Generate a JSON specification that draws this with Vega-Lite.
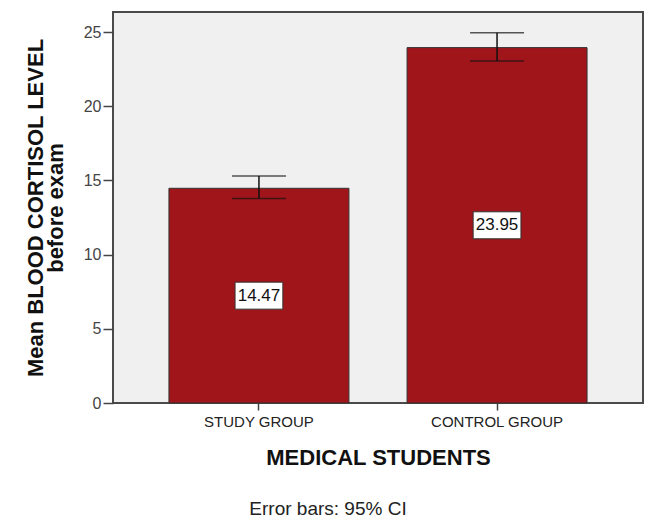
{
  "$schema": "https://vega.github.io/schema/vega-lite/v6.json",
  "width": 530,
  "height": 391,
  "autosize": {"type": "none"},
  "padding": {"left": 113, "top": 12, "right": 2, "bottom": 122},
  "background": "white",
  "title": {
    "text": "Error bars: 95% CI",
    "orient": "bottom",
    "anchor": "middle",
    "dx": -50,
    "offset": 32,
    "font": "Liberation Sans",
    "fontSize": 19,
    "fontWeight": "normal",
    "color": "#222"
  },
  "config": {
    "view": {"fill": "#F0F0F0", "stroke": "#4a4a4a", "strokeWidth": 2},
    "font": "Liberation Sans"
  },
  "data": {
    "values": [
      {"group": "STUDY GROUP", "mean": 14.47, "lo": 13.78, "hi": 15.3},
      {"group": "CONTROL GROUP", "mean": 23.95, "lo": 23.05, "hi": 24.95}
    ]
  },
  "encoding": {
    "x": {
      "field": "group",
      "type": "nominal",
      "sort": ["STUDY GROUP", "CONTROL GROUP"],
      "scale": {"paddingInner": 0.244, "paddingOuter": 0.235},
      "axis": {
        "title": "MEDICAL STUDENTS",
        "titleFont": "Liberation Sans",
        "titleFontSize": 22,
        "titleFontWeight": "bold",
        "titleColor": "#111",
        "titlePadding": 18,
        "labelAngle": 0,
        "labelFont": "Liberation Sans",
        "labelFontSize": 15,
        "labelColor": "#222",
        "labelPadding": 4,
        "tickSize": 7,
        "tickColor": "#444",
        "tickWidth": 1.5,
        "domain": false
      }
    }
  },
  "layer": [
    {
      "mark": {"type": "bar", "fill": "#A0151A", "stroke": "#333", "strokeWidth": 1},
      "encoding": {
        "y": {
          "field": "mean",
          "type": "quantitative",
          "scale": {"domain": [0, 26.35], "nice": false},
          "axis": {
            "title": ["Mean BLOOD CORTISOL LEVEL", "before exam"],
            "titleFont": "Liberation Sans",
            "titleFontSize": 22,
            "titleFontWeight": "bold",
            "titleColor": "#111",
            "titleLineHeight": 20,
            "titlePadding": 16,
            "values": [0, 5, 10, 15, 20, 25],
            "labelFont": "Liberation Sans",
            "labelFontSize": 16,
            "labelColor": "#444",
            "labelPadding": 2,
            "tickSize": 10,
            "tickColor": "#444",
            "tickWidth": 1.5,
            "grid": false,
            "domain": false
          }
        }
      }
    },
    {
      "mark": {"type": "rule", "color": "#111", "strokeWidth": 1.5},
      "encoding": {
        "y": {"field": "lo", "type": "quantitative"},
        "y2": {"field": "hi"}
      }
    },
    {
      "mark": {"type": "tick", "color": "#111", "size": 54, "thickness": 1.5},
      "encoding": {"y": {"field": "lo", "type": "quantitative"}}
    },
    {
      "mark": {"type": "tick", "color": "#111", "size": 54, "thickness": 1.5},
      "encoding": {"y": {"field": "hi", "type": "quantitative"}}
    },
    {
      "transform": [{"calculate": "datum.mean / 2", "as": "mid"}],
      "mark": {
        "type": "point",
        "shape": "M-1.77,-1H1.77V1H-1.77Z",
        "size": 729,
        "filled": true,
        "fill": "white",
        "stroke": "#333",
        "strokeWidth": 1,
        "opacity": 1
      },
      "encoding": {"y": {"field": "mid", "type": "quantitative"}}
    },
    {
      "transform": [{"calculate": "datum.mean / 2", "as": "mid"}],
      "mark": {
        "type": "text",
        "font": "Liberation Sans",
        "fontSize": 17,
        "color": "#111",
        "baseline": "middle",
        "align": "center"
      },
      "encoding": {
        "y": {"field": "mid", "type": "quantitative"},
        "text": {"field": "mean", "type": "quantitative", "format": ".2f"}
      }
    }
  ]
}
